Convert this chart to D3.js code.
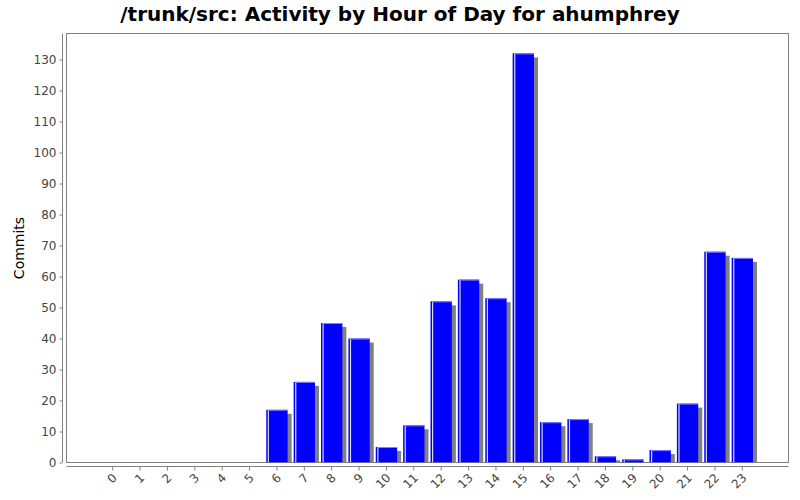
<!DOCTYPE html>
<html><head><meta charset="utf-8">
<script src="https://cdn.jsdelivr.net/npm/d3@7"></script>
<style>body{margin:0;background:#fff}svg{display:block}</style>
</head><body>
<svg id="c" width="800" height="500"></svg>
<script>
const hours = ["0","1","2","3","4","5","6","7","8","9","10","11","12","13","14","15","16","17","18","19","20","21","22","23"];
const commits = [0,0,0,0,0,0,17,26,45,40,5,12,52,59,53,132,13,14,2,1,4,19,68,66];
const yTicks = [0,10,20,30,40,50,60,70,80,90,100,110,120,130];
const title = "/trunk/src: Activity by Hour of Day for ahumphrey";
const yLabel = "Commits";

const svg = d3.select("#c");
const L = 66.5, R = 788.5, T = 33.5, B = 462.5;
const x = d3.scaleBand().domain(hours).range([L + 32.5, R - 32.5]).paddingInner(0.22).paddingOuter(0.11);
const y = d3.scaleLinear().domain([0, 138.4]).range([B, T]);

svg.append("text").attr("x", 400).attr("y", 21).attr("text-anchor", "middle")
  .attr("font-family", "DejaVu Sans").attr("font-weight", "bold").attr("font-size", 20)
  .attr("fill", "#000").text(title);

// plot frame
svg.append("rect").attr("x", L).attr("y", T).attr("width", R - L).attr("height", B - T)
  .attr("fill", "#fff").attr("stroke", "#808080").attr("stroke-width", 1);

const clip = svg.append("defs").append("clipPath").attr("id", "pc");
clip.append("rect").attr("x", L).attr("y", T).attr("width", R - L).attr("height", B - T);
const g = svg.append("g").attr("clip-path", "url(#pc)");

const data = hours.map((h, i) => ({h, v: commits[i]})).filter(d => d.v > 0);
const bw = x.bandwidth();
// shadows
g.selectAll("rect.sh").data(data).join("rect").attr("class", "sh")
  .attr("x", d => x(d.h) + 4).attr("y", d => y(d.v) + 4)
  .attr("width", bw).attr("height", d => B - y(d.v))
  .attr("fill", "#808080");
// bars
g.selectAll("rect.bar").data(data).join("rect").attr("class", "bar")
  .attr("x", d => x(d.h)).attr("y", d => y(d.v))
  .attr("width", bw).attr("height", d => B - y(d.v))
  .attr("fill", "#0000ff");
// highlight
g.selectAll("rect.hl").data(data).join("rect").attr("class", "hl")
  .attr("x", d => x(d.h) + 1.5).attr("y", d => y(d.v))
  .attr("width", 1.2).attr("height", d => B - y(d.v))
  .attr("fill", "#d8d8ff");
g.selectAll("rect.ht").data(data).join("rect").attr("class", "ht")
  .attr("x", d => x(d.h) + 1.5).attr("y", d => y(d.v))
  .attr("width", bw - 1.5).attr("height", 1)
  .attr("fill", "#8080ff");

// y axis
const ya = svg.append("g").attr("transform", "translate(62.5,0)")
  .call(d3.axisLeft(y).tickValues(yTicks).tickSize(3).tickPadding(3).tickSizeOuter(0));
ya.select(".domain").attr("stroke", "#808080").attr("d", `M0,${T}V${B}`);
ya.selectAll(".tick line").attr("stroke", "#808080");
ya.selectAll(".tick text").attr("font-family", "DejaVu Sans").attr("font-size", 12).attr("fill", "#444");

// x axis
const xa = svg.append("g").attr("transform", "translate(0,466.5)")
  .call(d3.axisBottom(x).tickSize(4).tickSizeOuter(0));
xa.select(".domain").attr("stroke", "#808080").attr("d", `M${L},0H${R}`);
xa.selectAll(".tick line").attr("stroke", "#808080");
xa.selectAll(".tick text").attr("font-family", "DejaVu Sans").attr("font-size", 12).attr("fill", "#444")
  .attr("text-anchor", "end").attr("dy", null).attr("y", 0)
  .attr("transform", "translate(5,12) rotate(-45)");

svg.append("text").attr("transform", "translate(24,248) rotate(-90)").attr("text-anchor", "middle")
  .attr("font-family", "DejaVu Sans").attr("font-size", 14).attr("fill", "#000").text(yLabel);
</script>
</body></html>
